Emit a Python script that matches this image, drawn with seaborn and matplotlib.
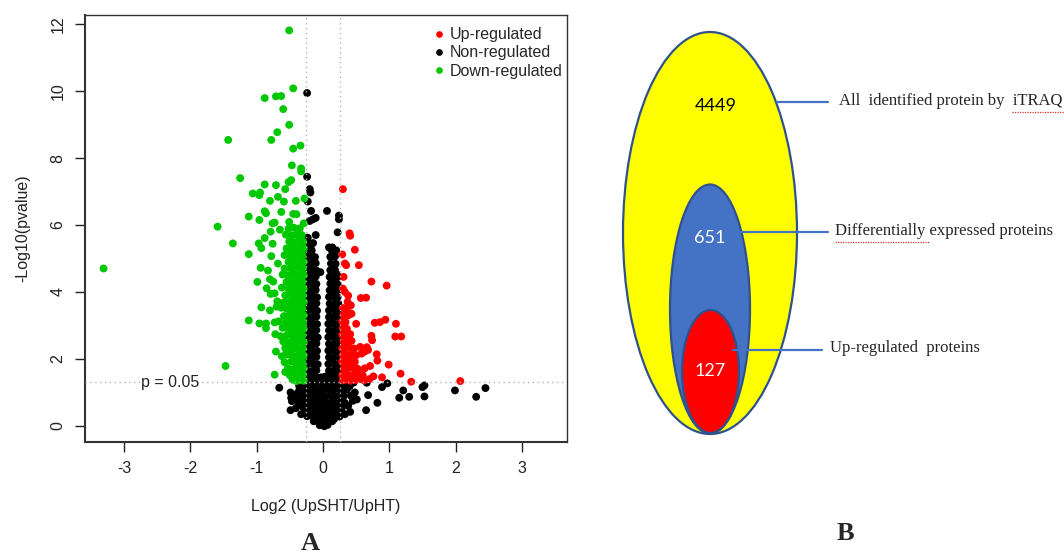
import numpy as np
import pandas as pd
import matplotlib.pyplot as plt
import seaborn as sns
from matplotlib.patches import Ellipse

sns.set_style("ticks")
plt.rcParams['font.family'] = ['Liberation Sans', 'DejaVu Sans']
plt.rcParams['axes.unicode_minus'] = False

# ---- Panel A: volcano plot ----
# down-regulated, isolated points
down_out = [
    (-3.31, 4.70), (-0.51, 11.81), (-0.45, 10.08), (-0.88, 9.79), (-0.71, 9.84),
    (-0.63, 9.85), (-0.60, 9.46), (-0.51, 8.99), (-0.69, 8.77), (-0.78, 8.54),
    (-1.43, 8.54), (-0.34, 8.37), (-0.45, 8.28), (-0.47, 7.78), (-0.33, 7.69),
    (-0.33, 7.60), (-1.25, 7.40), (-0.48, 7.34), (-0.52, 7.28), (-0.88, 7.21),
    (-0.71, 7.19), (-1.06, 6.94), (-0.95, 6.97), (-0.96, 6.89), (-0.57, 7.07),
    (-0.28, 6.79), (-0.80, 6.72), (-0.68, 6.84), (-0.59, 6.70), (-0.41, 6.72),
    (-0.88, 6.41), (-0.86, 6.35), (-0.63, 6.39), (-1.12, 6.25), (-0.96, 6.15),
    (-0.45, 6.33), (-0.40, 6.32), (-1.59, 5.95), (-0.76, 6.05), (-0.73, 6.07),
    (-0.51, 6.09), (-0.29, 6.05), (-0.79, 5.80), (-0.65, 5.86), (-1.36, 5.45),
    (-0.97, 5.45), (-0.88, 5.61), (-0.76, 5.44), (-1.12, 5.13), (-0.93, 5.31),
    (-0.78, 5.07), (-0.94, 4.72), (-0.83, 4.64), (-0.68, 4.85), (-0.99, 4.30),
    (-0.80, 4.38), (-0.75, 4.31), (-0.85, 4.11), (-0.79, 3.94), (-0.73, 3.96),
    (-0.93, 3.54), (-0.80, 3.45), (-0.70, 3.56), (-1.12, 3.15), (-0.96, 3.06),
    (-0.86, 3.06), (-0.86, 2.92), (-0.73, 3.09), (-0.72, 2.74), (-1.47, 1.79),
    (-0.73, 1.53), (-0.71, 2.22), (-0.57, 1.61), (-0.55, 2.22),
]
# down-regulated, dense band left of the cut-off
down_core = [
    (-0.29, 1.35), (-0.34, 1.37), (-0.40, 1.34), (-0.46, 1.38),
    (-0.30, 1.52), (-0.36, 1.50), (-0.43, 1.54), (-0.50, 1.51),
    (-0.29, 1.72), (-0.33, 1.70), (-0.39, 1.73), (-0.45, 1.69), (-0.53, 1.72),
    (-0.31, 1.90), (-0.37, 1.93), (-0.42, 1.89), (-0.48, 1.92), (-0.58, 1.90),
    (-0.29, 2.10), (-0.34, 2.12), (-0.40, 2.09), (-0.47, 2.11), (-0.54, 2.13), (-0.62, 2.08),
    (-0.30, 2.31), (-0.36, 2.29), (-0.43, 2.32), (-0.49, 2.30), (-0.57, 2.33),
    (-0.29, 2.50), (-0.33, 2.52), (-0.39, 2.49), (-0.45, 2.51), (-0.52, 2.48), (-0.60, 2.52),
    (-0.31, 2.70), (-0.37, 2.72), (-0.42, 2.69), (-0.48, 2.71), (-0.55, 2.70), (-0.64, 2.68),
    (-0.29, 2.90), (-0.34, 2.92), (-0.40, 2.89), (-0.46, 2.91), (-0.53, 2.90), (-0.61, 2.93),
    (-0.30, 3.10), (-0.36, 3.12), (-0.42, 3.09), (-0.49, 3.11), (-0.56, 3.10), (-0.67, 3.12),
    (-0.29, 3.30), (-0.33, 3.32), (-0.39, 3.29), (-0.45, 3.31), (-0.51, 3.30), (-0.59, 3.28),
    (-0.31, 3.50), (-0.37, 3.52), (-0.43, 3.49), (-0.48, 3.51), (-0.55, 3.50), (-0.63, 3.53),
    (-0.29, 3.70), (-0.35, 3.72), (-0.40, 3.69), (-0.46, 3.71), (-0.53, 3.70), (-0.60, 3.68), (-0.69, 3.72),
    (-0.30, 3.90), (-0.36, 3.92), (-0.42, 3.89), (-0.49, 3.91), (-0.57, 3.90),
    (-0.29, 4.10), (-0.34, 4.12), (-0.40, 4.09), (-0.45, 4.11), (-0.52, 4.10), (-0.62, 4.13),
    (-0.31, 4.30), (-0.37, 4.32), (-0.43, 4.29), (-0.48, 4.31), (-0.55, 4.30),
    (-0.29, 4.50), (-0.33, 4.52), (-0.39, 4.49), (-0.46, 4.51), (-0.53, 4.50), (-0.61, 4.52),
    (-0.30, 4.70), (-0.36, 4.72), (-0.42, 4.69), (-0.49, 4.71), (-0.58, 4.70),
    (-0.29, 4.90), (-0.34, 4.92), (-0.40, 4.89), (-0.45, 4.91), (-0.52, 4.90),
    (-0.31, 5.10), (-0.37, 5.12), (-0.43, 5.09), (-0.50, 5.11), (-0.58, 5.10),
    (-0.29, 5.30), (-0.34, 5.32), (-0.41, 5.29), (-0.47, 5.31), (-0.55, 5.30),
    (-0.30, 5.50), (-0.36, 5.52), (-0.43, 5.49), (-0.51, 5.51),
    (-0.32, 5.70), (-0.40, 5.72), (-0.47, 5.69), (-0.56, 5.71),
    (-0.35, 5.90), (-0.44, 5.92), (-0.52, 5.89),
]
# up-regulated
up_out = [
    (0.30, 7.07), (0.40, 5.75), (0.41, 5.68), (0.29, 5.12), (0.48, 5.26),
    (0.33, 4.85), (0.35, 4.80), (0.54, 4.80), (0.31, 4.45), (0.73, 4.31),
    (0.96, 4.19), (0.30, 4.10), (0.33, 4.00), (0.38, 3.89), (0.65, 3.83),
    (0.57, 3.82), (0.78, 3.08), (0.86, 3.10), (0.94, 3.17), (1.10, 3.05),
    (0.50, 3.05), (1.09, 2.67), (1.18, 2.67), (0.73, 2.69), (0.74, 2.56),
    (0.81, 2.14), (0.82, 1.95), (0.99, 1.83), (0.66, 2.35), (0.68, 2.27),
    (0.63, 2.22), (0.71, 1.79), (0.63, 1.72), (1.17, 1.56), (0.89, 1.45),
    (1.33, 1.32), (2.07, 1.34), (0.76, 1.48), (0.70, 1.40),
]
up_core = [
    (0.30, 1.36), (0.36, 1.38), (0.42, 1.35), (0.49, 1.37), (0.56, 1.40), (0.62, 1.36),
    (0.29, 1.52), (0.34, 1.55), (0.40, 1.50), (0.47, 1.53), (0.55, 1.56), (0.60, 1.51),
    (0.31, 1.72), (0.37, 1.70), (0.44, 1.74), (0.52, 1.71),
    (0.29, 1.92), (0.35, 1.90), (0.41, 1.94), (0.48, 1.91),
    (0.30, 2.12), (0.36, 2.10), (0.43, 2.14), (0.50, 2.11), (0.58, 2.16),
    (0.29, 2.32), (0.34, 2.30), (0.40, 2.34), (0.47, 2.31), (0.56, 2.36), (0.62, 2.28),
    (0.31, 2.52), (0.37, 2.50), (0.43, 2.54),
    (0.29, 2.72), (0.35, 2.70), (0.41, 2.74),
    (0.30, 2.92), (0.36, 2.90),
    (0.29, 3.12), (0.34, 3.10),
    (0.31, 3.32), (0.38, 3.30), (0.43, 3.35),
    (0.30, 3.52), (0.36, 3.50), (0.42, 3.60), (0.37, 3.70),
]
# non-regulated
non_out = [
    (-0.24, 9.94), (-0.24, 7.44), (-0.20, 7.07), (-0.19, 6.97), (-0.23, 6.70),
    (-0.18, 6.42), (0.06, 6.42), (0.24, 6.28), (0.24, 6.17), (-0.20, 6.12),
    (-0.15, 6.17), (-0.11, 6.21), (0.22, 5.78), (-0.11, 5.70), (0.09, 5.33),
    (0.14, 5.33), (-0.04, 4.59), (0.46, 1.29), (0.66, 1.29), (0.97, 1.27),
    (0.89, 1.16), (1.53, 1.21), (1.50, 1.16), (1.21, 1.06), (1.15, 0.84),
    (1.30, 0.87), (1.53, 0.88), (1.99, 1.06), (2.45, 1.13), (2.31, 0.87),
    (0.82, 0.69), (0.68, 0.92), (0.51, 0.79), (0.48, 1.00), (0.65, 0.47),
    (0.41, 0.42), (-0.66, 1.14), (-0.49, 1.00), (-0.48, 0.84), (-0.47, 0.74),
    (-0.49, 0.47), (-0.31, 0.58), (-0.39, 0.79), (-0.36, 1.06), (-0.41, 0.53),
    (-0.36, 1.20), (-0.40, 0.95), (-0.37, 0.62), (0.40, 1.18), (0.42, 0.90),
    (0.38, 0.60), (0.45, 0.75), (-0.33, 0.35), (0.33, 0.35),
]
non_left = [
    (-0.23, 1.45), (-0.16, 1.47), (-0.09, 1.44), (-0.24, 1.65), (-0.17, 1.63), (-0.10, 1.66),
    (-0.23, 1.85), (-0.15, 1.86), (-0.08, 1.84), (-0.24, 2.05), (-0.17, 2.04), (-0.10, 2.06),
    (-0.22, 2.25), (-0.16, 2.26), (-0.09, 2.24), (-0.24, 2.45), (-0.17, 2.44), (-0.10, 2.46),
    (-0.23, 2.65), (-0.15, 2.66), (-0.08, 2.64), (-0.24, 2.85), (-0.17, 2.84), (-0.10, 2.86),
    (-0.22, 3.05), (-0.16, 3.06), (-0.09, 3.04), (-0.24, 3.25), (-0.17, 3.24), (-0.10, 3.26),
    (-0.23, 3.45), (-0.15, 3.46), (-0.09, 3.44), (-0.24, 3.65), (-0.17, 3.64), (-0.10, 3.66),
    (-0.22, 3.85), (-0.16, 3.86), (-0.09, 3.84), (-0.24, 4.05), (-0.17, 4.04), (-0.11, 4.06),
    (-0.23, 4.25), (-0.16, 4.26), (-0.10, 4.24), (-0.24, 4.45), (-0.17, 4.44), (-0.11, 4.46),
    (-0.22, 4.65), (-0.16, 4.66), (-0.10, 4.64), (-0.24, 4.85), (-0.17, 4.84), (-0.11, 4.86),
    (-0.23, 5.05), (-0.16, 5.06), (-0.12, 5.04), (-0.24, 5.25), (-0.17, 5.24),
    (-0.22, 5.45), (-0.15, 5.46), (-0.23, 5.62),
    (-0.20, 1.55), (-0.13, 1.75), (-0.20, 1.95), (-0.13, 2.15), (-0.20, 2.35), (-0.13, 2.55),
    (-0.20, 2.75), (-0.13, 2.95), (-0.20, 3.15), (-0.13, 3.35), (-0.20, 3.55), (-0.13, 3.75),
    (-0.20, 3.95), (-0.13, 4.15), (-0.20, 4.35), (-0.13, 4.55), (-0.20, 4.75), (-0.14, 4.95),
    (-0.20, 5.15), (-0.19, 5.35),
]
non_right = [
    (0.08, 1.45), (0.15, 1.47), (0.22, 1.44), (0.09, 1.65), (0.16, 1.63), (0.23, 1.66),
    (0.08, 1.85), (0.15, 1.86), (0.22, 1.84), (0.09, 2.05), (0.16, 2.04), (0.23, 2.06),
    (0.08, 2.25), (0.15, 2.26), (0.22, 2.24), (0.09, 2.45), (0.16, 2.44), (0.23, 2.46),
    (0.08, 2.65), (0.15, 2.66), (0.22, 2.64), (0.09, 2.85), (0.16, 2.84), (0.23, 2.86),
    (0.08, 3.05), (0.15, 3.06), (0.22, 3.04), (0.09, 3.25), (0.16, 3.24), (0.23, 3.26),
    (0.09, 3.45), (0.16, 3.46), (0.22, 3.44), (0.10, 3.65), (0.17, 3.64), (0.23, 3.66),
    (0.09, 3.85), (0.16, 3.86), (0.22, 3.84), (0.10, 4.05), (0.17, 4.04), (0.23, 4.06),
    (0.11, 4.25), (0.17, 4.26), (0.22, 4.24), (0.10, 4.45), (0.17, 4.44), (0.23, 4.46),
    (0.11, 4.65), (0.18, 4.66), (0.12, 4.85), (0.19, 4.84),
    (0.11, 5.05), (0.18, 5.06), (0.13, 5.25), (0.20, 5.24),
    (0.12, 1.55), (0.19, 1.75), (0.12, 1.95), (0.19, 2.15), (0.12, 2.35), (0.19, 2.55),
    (0.12, 2.75), (0.19, 2.95), (0.12, 3.15), (0.19, 3.35), (0.13, 3.55), (0.20, 3.75),
    (0.13, 3.95), (0.20, 4.15), (0.14, 4.35), (0.20, 4.55), (0.15, 4.75),
]
non_base = [
    (-0.03, 1.45), (0.03, 1.47),
    (-0.30, 1.28), (-0.23, 1.30), (-0.16, 1.27), (-0.09, 1.31), (-0.02, 1.29),
    (0.05, 1.30), (0.12, 1.28), (0.19, 1.31), (0.26, 1.29), (0.32, 1.27),
    (-0.34, 1.08), (-0.27, 1.10), (-0.20, 1.07), (-0.13, 1.11), (-0.06, 1.09), (0.01, 1.08),
    (0.08, 1.10), (0.15, 1.07), (0.22, 1.11), (0.29, 1.09), (0.36, 1.08),
    (-0.32, 0.88), (-0.25, 0.90), (-0.18, 0.87), (-0.11, 0.91), (-0.04, 0.89),
    (0.03, 0.88), (0.10, 0.90), (0.17, 0.87), (0.24, 0.91), (0.31, 0.89),
    (-0.30, 0.68), (-0.23, 0.70), (-0.16, 0.67), (-0.09, 0.71), (-0.02, 0.69),
    (0.05, 0.68), (0.12, 0.70), (0.19, 0.67), (0.26, 0.71), (0.33, 0.69),
    (-0.27, 0.48), (-0.20, 0.50), (-0.13, 0.47), (-0.06, 0.51), (0.01, 0.49),
    (0.08, 0.48), (0.15, 0.50), (0.22, 0.47), (0.28, 0.51),
    (-0.24, 0.29), (-0.17, 0.31), (-0.10, 0.28), (-0.03, 0.32),
    (0.04, 0.30), (0.11, 0.29), (0.18, 0.31), (0.25, 0.28),
    (-0.14, 0.14), (-0.07, 0.16), (0.00, 0.13), (0.07, 0.15), (0.14, 0.14),
    (-0.05, 0.02), (0.02, -0.01), (0.07, 0.03),
    (-0.27, 1.19), (-0.13, 1.20), (0.01, 1.19), (0.15, 1.18), (0.29, 1.20),
    (-0.29, 0.98), (-0.15, 0.99), (-0.01, 0.98), (0.13, 0.99), (0.27, 0.97),
    (-0.27, 0.78), (-0.13, 0.79), (0.01, 0.78), (0.15, 0.79), (0.29, 0.80),
    (-0.23, 0.58), (-0.09, 0.59), (0.05, 0.58), (0.19, 0.60),
    (-0.20, 0.39), (-0.06, 0.40), (0.08, 0.39), (0.21, 0.40),
    (-0.10, 0.21), (0.04, 0.22), (0.17, 0.21),
]

groups = ['Up-regulated', 'Non-regulated', 'Down-regulated']
colors = {'Up-regulated': '#ff0000', 'Non-regulated': '#000000', 'Down-regulated': '#00c800'}
fc_cut = 0.263          # log2(1.2)
p_cut = 0.05

rows = []
for name, pts in [('Non-regulated', non_base + non_left + non_right + non_out),
                  ('Up-regulated', up_core + up_out),
                  ('Down-regulated', down_core + down_out)]:
    for x, y in pts:
        rows.append({'log2fc': x, 'nlogp': y, 'group': name})
df = pd.DataFrame(rows)

# ---- Panel B: nested ellipses ----
venn_counts = [4449, 651, 127]
venn_labels = ['All  identified protein by  iTRAQ',
               'Differentially expressed proteins',
               'Up-regulated  proteins']

fs = 11.5
fig = plt.figure(figsize=(10.64, 5.54), dpi=100)
ax = fig.add_axes([85 / 1064, 1 - 442 / 554, 482 / 1064, 427 / 554])

sns.scatterplot(data=df, x='log2fc', y='nlogp', hue='group', hue_order=groups,
                palette=colors, s=32, linewidth=0, ax=ax, zorder=2)

ax.set_xlim(-3.59, 3.68)
ax.set_ylim(-0.48, 12.27)
ax.set_xticks([-3, -2, -1, 0, 1, 2, 3])
ax.set_yticks([0, 2, 4, 6, 8, 10, 12])
ax.set_xlabel('')
ax.set_ylabel('')
ax.tick_params(axis='both', length=7, width=1, direction='out', labelsize=fs,
               pad=7, colors='#222222')
ax.tick_params(axis='y', labelrotation=90)
for lbl in ax.get_yticklabels():
    lbl.set_va('center')
for side in ['top', 'right', 'left', 'bottom']:
    ax.spines[side].set_color('#333333')
    ax.spines[side].set_linewidth(1.0)
ax.spines['left'].set_linewidth(1.5)
ax.spines['bottom'].set_linewidth(1.5)

dot = dict(color='#b4b4b4', lw=1, ls=(0, (1, 2.5)), zorder=3)
ax.axvline(-fc_cut, **dot)
ax.axvline(fc_cut, **dot)
ax.axhline(-np.log10(p_cut), **dot)
ax.text(-2.3, -np.log10(p_cut), 'p = 0.05', ha='center', va='center', fontsize=fs,
        color='#222222', zorder=4, bbox=dict(fc='white', ec='none', pad=1))

handles, labels = ax.get_legend_handles_labels()
ax.legend(handles, labels, loc='upper left', bbox_to_anchor=(0.70, 0.99), frameon=False,
          fontsize=fs, handletextpad=0.1, labelspacing=0.2, borderpad=0,
          handlelength=1.1, markerscale=0.85)

fig.text(326 / 1064, 1 - 507 / 554, 'Log2 (UpSHT/UpHT)', ha='center', va='center',
         fontsize=fs, color='#222222')
fig.text(23 / 1064, 1 - 228 / 554, '-Log10(pvalue)', ha='center', va='center',
         rotation=90, fontsize=fs, color='#222222')
fig.text(310 / 1064, 1 - 544 / 554, 'A', ha='center', va='center', fontsize=19,
         fontweight='bold', family='Liberation Serif')
fig.text(845 / 1064, 1 - 533 / 554, 'B', ha='center', va='center', fontsize=19,
         fontweight='bold', family='Liberation Serif')

# right panel in pixel coordinates
ax2 = fig.add_axes([0, 0, 1, 1], facecolor='none')
ax2.set_xlim(0, 1064)
ax2.set_ylim(554, 0)
ax2.axis('off')

edge = '#2f528f'
ax2.add_patch(Ellipse((710, 233), 174, 402, fc='#ffff00', ec=edge, lw=1.6))
ax2.add_patch(Ellipse((710, 309), 80, 249, fc='#4472c4', ec=edge, lw=1.6))
ax2.add_patch(Ellipse((710.5, 371.5), 57, 123, fc='#ff0000', ec=edge, lw=1.6))

ax2.text(716, 106, str(venn_counts[0]), ha='center', va='center', fontsize=13,
         family='Lato', color='black')
ax2.text(710, 238, str(venn_counts[1]), ha='center', va='center', fontsize=13,
         family='Lato', color='white')
ax2.text(710, 371, str(venn_counts[2]), ha='center', va='center', fontsize=13,
         family='Lato', color='white')

line_c = '#4472c4'
ax2.plot([777, 828], [102, 102], color=line_c, lw=1.6)
ax2.plot([740, 828], [232, 232], color=line_c, lw=1.6)
ax2.plot([733, 822], [350, 350], color=line_c, lw=1.6)

ax2.text(839, 101, venn_labels[0], ha='left', va='center', fontsize=12,
         family='Liberation Serif')
ax2.text(835, 231, venn_labels[1], ha='left', va='center', fontsize=12,
         family='Liberation Serif')
ax2.text(830, 348, venn_labels[2], ha='left', va='center', fontsize=12,
         family='Liberation Serif')

# spell-check squiggles
sq = dict(color='#e03030', lw=0.9, ls=(0, (1, 1)))
ax2.plot([1012, 1064], [112, 112], **sq)
ax2.plot([835, 930], [242, 242], **sq)

fig.savefig('out.png', dpi=100)
